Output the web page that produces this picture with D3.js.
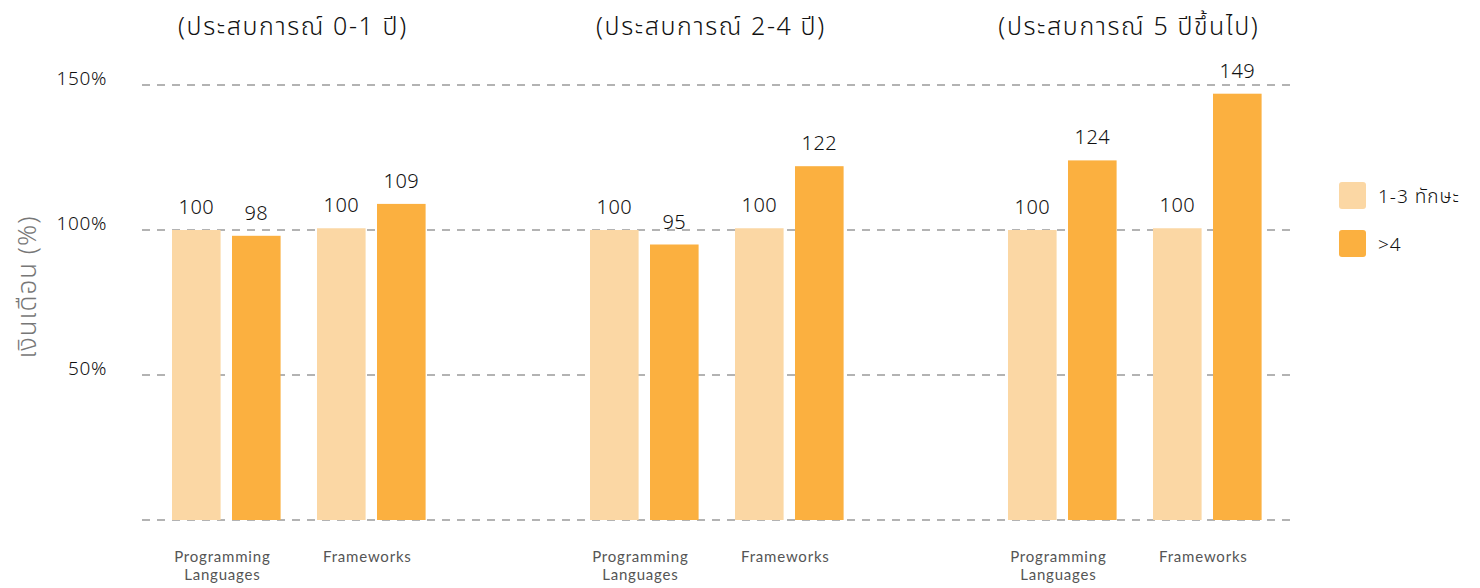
<!DOCTYPE html>
<html><head><meta charset="utf-8">
<script src="https://cdn.jsdelivr.net/npm/d3@7"></script>
<style>
html,body{margin:0;padding:0;background:#fff;}
text{font-family:"Noto Sans Thai","Noto Sans","Lato",sans-serif;font-weight:350;}
text.cat{font-family:"Lato","Noto Sans",sans-serif;font-weight:400;}
</style></head>
<body>
<svg id="chart" width="1480" height="588"></svg>
<script>
const panels = ["(ประสบการณ์ 0-1 ปี)", "(ประสบการณ์ 2-4 ปี)", "(ประสบการณ์ 5 ปีขึ้นไป)"];
const categories = ["Programming Languages", "Frameworks"];
const categoryLines = [["Programming", "Languages"], ["Frameworks"]];
const seriesNames = ["1-3 ทักษะ", ">4"];
// bar heights, per panel: [Programming Languages, Frameworks]
const lightValues = [[100, 100.6], [100, 100.6], [100, 100.6]];
const darkValues = [[98, 109], [95, 122], [124, 147]];
// printed labels, per panel: [PL light, PL dark, FW light, FW dark]
const valueLabels = [["100","98","100","109"],["100","95","100","122"],["100","124","100","149"]];
const yTicks = [0, 50, 100, 150];
const yTickLabels = ["", "50%", "100%", "150%"];
const yTitle = "เงินเดือน (%)";
const colors = ["#FBD7A4", "#FBB040"];

const svg = d3.select("#chart");
const y = d3.scaleLinear().domain([0, 150]).range([520, 85]);

// gridlines
svg.append("g").selectAll("line").data(yTicks).join("line")
  .attr("x1", 142).attr("x2", 1290)
  .attr("y1", d => y(d)).attr("y2", d => y(d))
  .attr("stroke", "#9a9a9a").attr("stroke-width", 1.5)
  .attr("stroke-dasharray", "8,7");

// y tick labels
svg.append("g").selectAll("text").data(yTicks).join("text")
  .attr("x", 107).attr("y", d => y(d))
  .attr("text-anchor", "end").attr("font-size", 19).attr("letter-spacing", 0.6).attr("fill", "#111")
  .text((d, i) => yTickLabels[i]);

// y title
svg.append("text")
  .attr("transform", "translate(36,287) rotate(-90)")
  .attr("text-anchor", "middle").attr("font-size", 26).attr("letter-spacing", 1).attr("fill", "#777")
  .text(yTitle);

const xPanel = d3.scaleBand().domain(panels).range([150, 150 + 418 * 3]);
const xCat = d3.scaleBand().domain(categories).range([22, 275.75]).paddingInner(0.25).paddingOuter(0);
const xSer = d3.scaleBand().domain(seriesNames).range([0, 108.6]).paddingInner(0.19).paddingOuter(0);

panels.forEach((p, pi) => {
  const g = svg.append("g").attr("transform", `translate(${xPanel(p)},0)`);
  g.append("text")
    .attr("x", xCat(categories[0]) + (xCat(categories[1]) + xCat.bandwidth() - xCat(categories[0])) / 2 - 6)
    .attr("y", 35).attr("text-anchor", "middle").attr("font-size", 25).attr("letter-spacing", 1.6).attr("fill", "#111")
    .text(p);
  categories.forEach((c, ci) => {
    const vals = [lightValues[pi][ci], darkValues[pi][ci]];
    const cg = g.append("g").attr("transform", `translate(${xCat(c)},0)`);
    cg.selectAll("rect").data(vals).join("rect")
      .attr("x", (d, si) => xSer(seriesNames[si]))
      .attr("width", xSer.bandwidth())
      .attr("y", d => y(d)).attr("height", d => y(0) - y(d))
      .attr("fill", (d, si) => colors[si]);
    cg.selectAll("text.val").data(vals).join("text").attr("class", "val")
      .attr("x", (d, si) => xSer(seriesNames[si]) + xSer.bandwidth() / 2)
      .attr("y", d => y(d) - 16)
      .attr("text-anchor", "middle").attr("font-size", 20).attr("letter-spacing", 0.4).attr("fill", "#111")
      .text((d, si) => valueLabels[pi][ci * 2 + si]);
    categoryLines[ci].forEach((line, li) => {
      cg.append("text").attr("class", "cat").attr("text-anchor", "middle").attr("font-size", 15).attr("fill", "#555")
        .attr("letter-spacing", 0.8)
        .attr("x", xCat.bandwidth() / 2 - 4).attr("y", 562 + li * 18).text(line);
    });
  });
});

// legend
const lg = svg.append("g").attr("transform", "translate(1339,182)");
seriesNames.forEach((s, i) => {
  lg.append("rect").attr("x", 0).attr("y", i * 48).attr("width", 27).attr("height", 27)
    .attr("rx", 3).attr("fill", colors[i]);
  lg.append("text").attr("x", 39).attr("y", i * 48 + 21).attr("font-size", 19).attr("letter-spacing", 1).attr("fill", "#111").text(s);
});
</script>
</body></html>
